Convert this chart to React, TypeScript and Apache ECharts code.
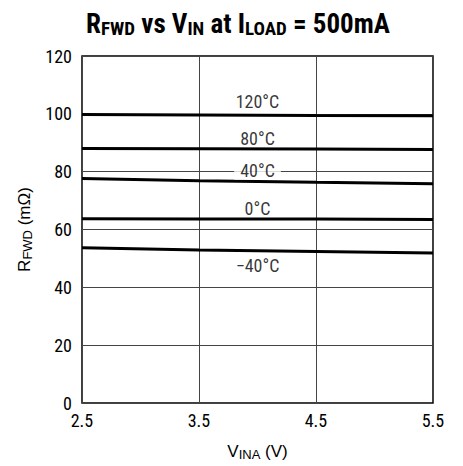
import React, { useEffect, useRef } from "react";
import * as echarts from "echarts";

const vin = [2.5, 3.5, 4.5, 5.5];
const r120 = [99.8, 99.6, 99.4, 99.3];
const r80 = [88.0, 87.9, 87.8, 87.7];
const r40 = [77.6, 76.9, 76.3, 75.8];
const r0 = [63.7, 63.6, 63.6, 63.5];
const rm40 = [53.7, 52.9, 52.4, 51.9];
const seriesNames = ["120°C", "80°C", "40°C", "0°C", "\u221240°C"];
const labelX = [4, 4, 4, 4, 4];
const labelY = [104.4, 91.6, 80.3, 67.4, 47.5];
const yTicks = [0, 20, 40, 60, 80, 100, 120];
const xTicks = [2.5, 3.5, 4.5, 5.5];

const FONT = "'Liberation Sans Narrow', 'Roboto Condensed', 'Arial Narrow', sans-serif";
const NAMEFONT = "'Liberation Sans', Arial, sans-serif";

export default function App() {
  const ref = useRef<HTMLDivElement>(null);
  useEffect(() => {
    const chart = echarts.init(ref.current!, undefined, { renderer: "svg" });
    const all = [r120, r80, r40, r0, rm40];
    const lineSeries = all.map((vals, i) => ({
      type: "line",
      name: seriesNames[i],
      data: vin.map((x, j) => [x, vals[j]]),
      symbol: "none",
      lineStyle: { color: "#000", width: 3 },
      z: 3,
    }));
    chart.setOption({
      animation: false,
      textStyle: { fontFamily: FONT },
      title: {
        text: "{m|R}{s|FWD}{m| vs V}{s|IN}{m| at I}{s|LOAD}{m| = 500mA}",
        left: 233,
        top: 4,
        textAlign: "center",
        textStyle: {
          rich: {
            m: { fontSize: 27, fontWeight: "bold", fontFamily: FONT, color: "#000" },
            s: { fontSize: 19, fontWeight: "bold", fontFamily: FONT, color: "#000", padding: [10, 0, 0, 0] },
          },
        },
      },
      grid: {
        left: 82,
        right: 30,
        top: 56,
        bottom: 59,
        show: true,
        borderColor: "#000",
        borderWidth: 1.5,
        backgroundColor: "transparent",
      },
      xAxis: {
        type: "value",
        min: xTicks[0],
        max: xTicks[xTicks.length - 1],
        interval: 1,
        axisLine: { show: false },
        axisTick: { show: false },
        axisLabel: { color: "#000", fontSize: 18, fontFamily: FONT, margin: 8, formatter: (v: number) => v.toFixed(1) },
        splitLine: { show: true, lineStyle: { color: "#444", width: 1 } },
        name: "{m|V}{s|INA}{m| (V)}",
        nameLocation: "middle",
        nameGap: 38,
        nameTextStyle: {
          rich: {
            m: { fontSize: 17, fontFamily: NAMEFONT, color: "#000" },
            s: { fontSize: 13, fontFamily: NAMEFONT, color: "#000", padding: [7, 0, 0, 0] },
          },
        },
      },
      yAxis: {
        type: "value",
        min: yTicks[0],
        max: yTicks[yTicks.length - 1],
        interval: 20,
        axisLine: { show: false },
        axisTick: { show: false },
        axisLabel: { color: "#000", fontSize: 18, fontFamily: FONT, margin: 10 },
        splitLine: { show: true, lineStyle: { color: "#444", width: 1 } },
        name: "{m|R}{s|FWD}{m| (m\u03A9)}",
        nameLocation: "middle",
        nameRotate: 90,
        nameGap: 46,
        nameTextStyle: {
          rich: {
            m: { fontSize: 17, fontFamily: NAMEFONT, color: "#000" },
            s: { fontSize: 13, fontFamily: NAMEFONT, color: "#000", padding: [7, 0, 0, 0] },
          },
        },
      },
      series: [
        ...lineSeries,
        {
          type: "scatter",
          symbolSize: 0,
          z: 5,
          data: labelX.map((x, i) => ({
            value: [x, labelY[i]],
            name: seriesNames[i],
            label: i === 2 ? { backgroundColor: "#fff", padding: [0, 6] } : {},
          })),
          label: {
            show: true,
            position: "inside",
            formatter: (p: any) => p.name,
            color: "#000",
            fontSize: 18,
            fontFamily: FONT,
          },
        },
      ],
    });
    return () => chart.dispose();
  }, []);
  return <div ref={ref} style={{ position: "absolute", left: 0, top: 0, width: 463, height: 466 }} />;
}
